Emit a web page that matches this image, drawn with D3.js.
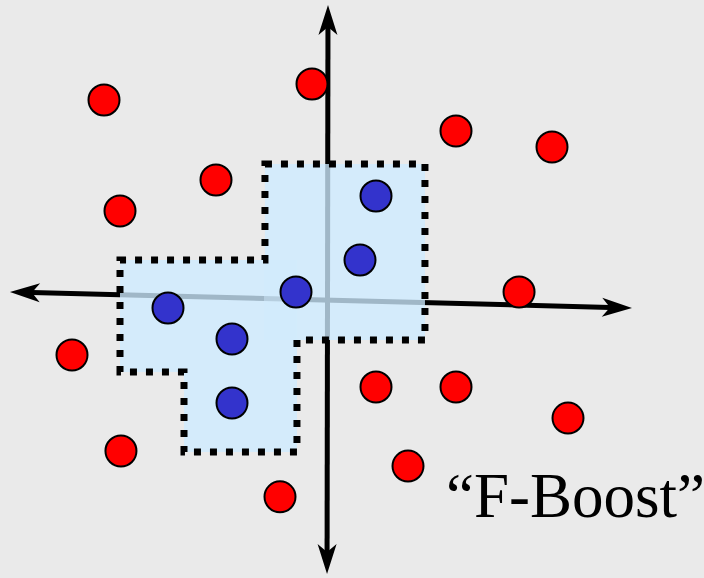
<!DOCTYPE html>
<html>
<head>
<meta charset="utf-8">
<script src="https://cdn.jsdelivr.net/npm/d3@7"></script>
<style>
  html, body { margin: 0; padding: 0; background: #eaeaea; }
  svg { display: block; }
</style>
</head>
<body>
<div id="chart"></div>
<script>
// points in data units, origin where the axes cross
const redX = [-7.0, -0.5, 4.0, 7.0, -3.5, -6.5, 5.97, -8.0, 1.5, 4.0, 7.5, -6.47, 2.5, -1.5];
const redY = [6.0, 6.5, 5.03, 4.53, 3.5, 2.53, 0.0, -1.97, -2.97, -2.97, -3.94, -4.97, -5.44, -6.4];
const blueX = [1.5, 1.0, -1.0, -5.0, -3.0, -3.0];
const blueY = [3.0, 1.0, 0.0, -0.5, -1.47, -3.47];

// region outline (vertices)
const regionX = [-1.97, 3.03, 3.03, -0.97, -0.97, -4.5, -4.5, -6.5, -6.5, -1.97];
const regionY = [4.0, 4.0, -1.5, -1.5, -5.0, -5.0, -2.5, -2.5, 1.0, 1.0];
// lighter overlap square in the middle
const coreX = [-2.0, -0.97];
const coreY = [1.0, -1.5];

// axes: [start, end] as arrow tips
const axisX = [[-9.94, 9.5], [0, -0.03]];
const axisY = [[0.0, -0.5], [8.97, -8.81]];

const label = "\u201cF-Boost\u201d";

const width = 704, height = 578;
const x = d3.scaleLinear().domain([-10.25, 11.75]).range([0, width]);
const y = d3.scaleLinear().domain([9.125, -8.9375]).range([0, height]);

const svg = d3.select('#chart').append('svg')
  .attr('width', width)
  .attr('height', height);

svg.append('rect').attr('width', width).attr('height', height).attr('fill', '#eaeaea');

// axes with arrow heads at both ends
const headLen = 30, headHalf = 9.5, notch = 22;
const axes = svg.append('g');
axisX.forEach(function(xs, i) {
  let x1 = x(xs[0]), y1 = y(axisY[i][0]);
  let x2 = x(xs[1]), y2 = y(axisY[i][1]);
  let len = Math.hypot(x2 - x1, y2 - y1);
  let ux = (x2 - x1) / len, uy = (y2 - y1) / len;
  axes.append('line')
    .attr('x1', x1 + ux * notch).attr('y1', y1 + uy * notch)
    .attr('x2', x2 - ux * notch).attr('y2', y2 - uy * notch)
    .style('stroke', '#000')
    .style('stroke-width', 5);
  [[x1, y1, -1], [x2, y2, 1]].forEach(function(t) {
    let ang = Math.atan2(uy, ux) * 180 / Math.PI + (t[2] < 0 ? 180 : 0);
    axes.append('path')
      .attr('d', 'M0,0 L' + (-headLen) + ',' + (-headHalf) + ' L' + (-notch) + ',0 L' + (-headLen) + ',' + headHalf + ' Z')
      .attr('transform', 'translate(' + t[0] + ',' + t[1] + ') rotate(' + ang + ')')
      .style('fill', '#000');
  });
});

// shaded region
const regionPts = regionX.map((d, i) => [x(d), y(regionY[i])]);
svg.append('path')
  .attr('d', d3.line()(regionPts) + 'Z')
  .style('fill', '#cdebff')
  .style('fill-opacity', 0.78)
  .style('stroke', 'none');
svg.append('rect')
  .attr('x', x(coreX[0])).attr('y', y(coreY[0]))
  .attr('width', x(coreX[1]) - x(coreX[0]))
  .attr('height', y(coreY[1]) - y(coreY[0]))
  .style('fill', '#d0ecfc')
  .style('fill-opacity', 0.45);
svg.append('path')
  .attr('d', d3.line()(regionPts) + 'Z')
  .style('fill', 'none')
  .style('stroke', '#000')
  .style('stroke-width', 7)
  .style('stroke-dasharray', '7,9');

// points
svg.append('g').selectAll('circle.red')
  .data(redX).enter().append('circle')
  .attr('cx', d => x(d))
  .attr('cy', (d, i) => y(redY[i]))
  .attr('r', 15.5)
  .style('fill', '#ff0000')
  .style('stroke', '#000')
  .style('stroke-width', 2);

svg.append('g').selectAll('circle.blue')
  .data(blueX).enter().append('circle')
  .attr('cx', d => x(d))
  .attr('cy', (d, i) => y(blueY[i]))
  .attr('r', 15.5)
  .style('fill', '#3333cc')
  .style('stroke', '#000')
  .style('stroke-width', 2);

svg.append('text')
  .attr('x', 446)
  .attr('y', 517)
  .style('font-family', '"Liberation Serif", "Times New Roman", serif')
  .style('font-size', '63px')
  .style('fill', '#000')
  .text(label);
</script>
</body>
</html>
